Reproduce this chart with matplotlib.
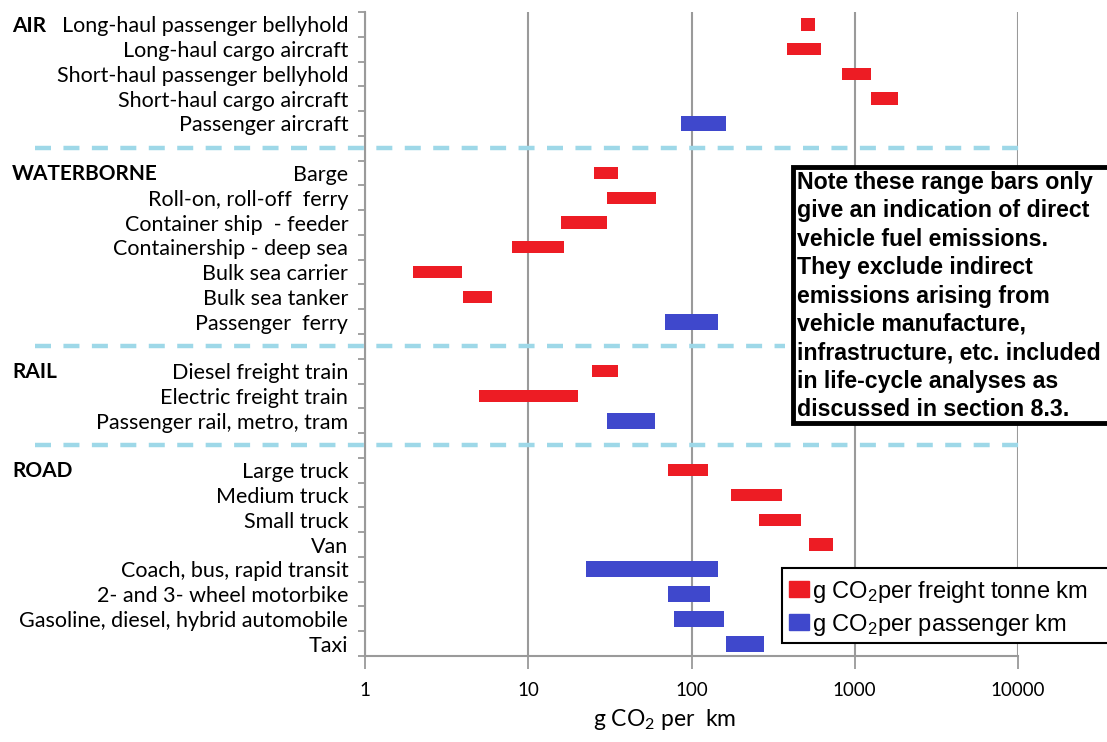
import numpy as np
import matplotlib
matplotlib.use("Agg")
import matplotlib.pyplot as plt
from matplotlib.patches import Patch, Rectangle
from matplotlib.transforms import blended_transform_factory

# range bars, g CO2 per km (freight: per tonne km, passenger: per passenger km)

groups = ["AIR", "WATERBORNE", "RAIL", "ROAD"]

air_labels = ["Long-haul passenger bellyhold", "Long-haul cargo aircraft",
              "Short-haul passenger bellyhold", "Short-haul cargo aircraft",
              "Passenger aircraft"]
air_low = [470, 385, 830, 1265, 86]
air_high = [570, 620, 1265, 1830, 163]
air_kind = ["f", "f", "f", "f", "p"]

water_labels = ["Barge", "Roll-on, roll-off  ferry", "Container ship  - feeder",
                "Containership - deep sea", "Bulk sea carrier", "Bulk sea tanker",
                "Passenger  ferry"]
water_low = [25.4, 30.2, 15.8, 8.0, 1.96, 3.97, 68.5]
water_high = [35.6, 60.6, 30.2, 16.6, 3.95, 6.0, 146]
water_kind = ["f", "f", "f", "f", "f", "f", "p"]

rail_labels = ["Diesel freight train", "Electric freight train",
               "Passenger rail, metro, tram"]
rail_low = [24.7, 5.0, 30.2]
rail_high = [35.5, 20.3, 59.5]
rail_kind = ["f", "f", "p"]

road_labels = ["Large truck", "Medium truck", "Small truck", "Van",
               "Coach, bus, rapid transit", "2- and 3- wheel motorbike",
               "Gasoline, diesel, hybrid automobile", "Taxi"]
road_low = [72, 175, 259, 523, 22.5, 72, 78, 163]
road_high = [127, 359, 467, 736, 145, 130, 158, 280]
road_kind = ["f", "f", "f", "f", "p", "p", "p", "p"]

xticks = [1, 10, 100, 1000, 10000]
xtick_labels = ["1", "10", "100", "1000", "10000"]

note = ("Note these range bars only\n"
        "give an indication of direct\n"
        "vehicle fuel emissions.\n"
        "They exclude indirect\n"
        "emissions arising from\n"
        "vehicle manufacture,\n"
        "infrastructure, etc. included\n"
        "in life-cycle analyses as\n"
        "discussed in section 8.3.")

RED = "#ED1C24"
BLUE = "#3F48CC"
DASH = "#9ED8E8"
GRID = "#9A9A9A"

W, H = 1107, 742
fig = plt.figure(figsize=(W / 100, H / 100), dpi=100)
ax = fig.add_axes([365 / W, 1 - 656 / H, (1018 - 365) / W, (656 - 12) / H])

sections = [
    (air_labels, air_low, air_high, air_kind),
    (water_labels, water_low, water_high, water_kind),
    (rail_labels, rail_low, rail_high, rail_kind),
    (road_labels, road_low, road_high, road_kind),
]

fig_y = blended_transform_factory(fig.transFigure, ax.transData)

row = 0
ypos, ylabels, separators = [], [], []
for gi, (labels, low, high, kind) in enumerate(sections):
    if gi > 0:
        separators.append(row)
        row += 1
    ax.text(12 / W, row + 0.05, groups[gi], transform=fig_y, ha="left", va="center",
            fontsize=15, fontweight="bold", family="Lato")
    for lab, lo, hi, k in zip(labels, low, high, kind):
        if k == "f":
            ax.barh(row, hi - lo, left=lo, height=0.5, color=RED, zorder=3)
        else:
            ax.barh(row, hi - lo, left=lo, height=0.64, color=BLUE, zorder=3)
        ypos.append(row)
        ylabels.append(lab)
        row += 1

for s in separators:
    x_end = 785 / W if s == 13 else 1025 / W
    ax.plot([35 / W, x_end], [s, s], transform=fig_y, color=DASH, lw=3.2,
            linestyle=(0, (3.6, 2.8)), clip_on=False, zorder=4)

ax.set_xscale("log")
ax.set_xlim(1, 10000)
ax.set_ylim(row - 0.5, -0.5)

ax.set_xticks(xticks)
ax.set_xticklabels(xtick_labels, fontsize=13.5, family="Lato")
ax.xaxis.set_minor_locator(matplotlib.ticker.NullLocator())
ax.tick_params(axis="x", length=9, width=1.3, color=GRID, pad=10)

ax.set_yticks(ypos)
ax.set_yticklabels(ylabels, fontsize=15.5, family="Lato")
ax.set_yticks(np.arange(-0.5, row, 1.0), minor=True)
ax.tick_params(axis="y", which="major", length=0, pad=12)
ax.tick_params(axis="y", which="minor", length=5, width=1.3, color=GRID)

ax.grid(axis="x", which="major", color=GRID, lw=1.5, zorder=0)
for side in ["top", "right"]:
    ax.spines[side].set_visible(False)
for side in ["left", "bottom"]:
    ax.spines[side].set_color(GRID)
    ax.spines[side].set_linewidth(1.5)

fig.text(665 / W, 1 - 720 / H, r"g CO$\mathregular{_2}$ per  km", ha="center",
         va="center", fontsize=16.5, family="Lato")

# note box
fig.patches.append(Rectangle((793 / W, 1 - 423 / H), 330 / W, 256 / H,
                             transform=fig.transFigure, facecolor="white",
                             edgecolor="black", lw=3.5, zorder=5))
fig.text(797 / W, 1 - 171 / H, note, ha="left", va="top", fontsize=16.7,
         fontweight="bold", family=["Liberation Sans", "DejaVu Sans"],
         linespacing=1.3, zorder=6)

# legend box
fig.patches.append(Rectangle((782 / W, 1 - 643 / H), 340 / W, 75 / H,
                             transform=fig.transFigure, facecolor="white",
                             edgecolor="black", lw=1.5, zorder=5))
handles = [Patch(color=RED), Patch(color=BLUE)]
leg = fig.legend(handles,
                 [r"g CO$\mathregular{_2}$per freight tonne km",
                  r"g CO$\mathregular{_2}$per passenger km"],
                 loc="upper left", bbox_to_anchor=(772 / W, 1 - 562 / H),
                 frameon=False, handlelength=0.85, handleheight=0.65,
                 handletextpad=0.15, labelspacing=0.3, borderpad=0.2,
                 prop={"family": "Liberation Sans", "size": 17})
leg.set_zorder(7)

fig.savefig("out.png", dpi=100)
